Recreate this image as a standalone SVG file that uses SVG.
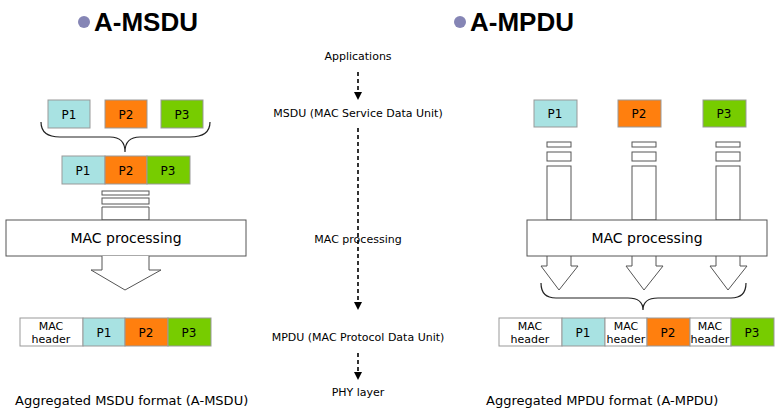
<svg xmlns="http://www.w3.org/2000/svg" width="780" height="412" viewBox="0 0 780 412">
<defs>
<marker id="ah" markerWidth="8" markerHeight="8" refX="4" refY="4" orient="auto" markerUnits="userSpaceOnUse"><path d="M0,0 L8,4 L0,8 z" fill="#000"/></marker>
<style>
text{font-family:"DejaVu Sans","Liberation Sans",sans-serif;fill:#000}
.t{font-size:11px;text-anchor:middle}
.p{font-size:12px;text-anchor:middle}
.h{font-size:11px;text-anchor:middle}
.b{stroke:#999;stroke-width:1}
.c1{fill:#a8e2e2}.c2{fill:#ff7f0e}.c3{fill:#77cc00}.w{fill:#fff}
.o{fill:#fff;stroke:#555;stroke-width:1}
.br{fill:none;stroke:#222;stroke-width:1.2}
.d{stroke:#000;stroke-width:1.6;stroke-dasharray:4,3;fill:none}
.title{font-family:"Liberation Sans",Arial,sans-serif;font-size:26px;font-weight:bold}
.cap{font-size:13px}
</style>
</defs>
<g id="titles">
<circle cx="84" cy="22" r="6" fill="#8585b5"/>
<text x="94" y="31" class="title">A-MSDU</text>
<circle cx="460" cy="22" r="6" fill="#8585b5"/>
<text x="470" y="31" class="title">A-MPDU</text>
</g>
<g id="connectors">
<line x1="358" y1="72" x2="358" y2="96" class="d" marker-end="url(#ah)"/>
<line x1="358" y1="128" x2="358" y2="306" class="d" marker-end="url(#ah)"/>
<line x1="358" y1="353" x2="358" y2="376" class="d" marker-end="url(#ah)"/>
</g>
<g id="layers">
<text x="358" y="60" class="t">Applications</text>
<text x="358" y="117" class="t">MSDU (MAC Service Data Unit)</text>
<text x="358" y="243" class="t">MAC processing</text>
<text x="358" y="341" class="t">MPDU (MAC Protocol Data Unit)</text>
<text x="358" y="396" class="t">PHY layer</text>
</g>
<g id="msdu-left">
<rect x="48" y="100" width="42" height="28" class="b c1"/><text x="69" y="119" class="p">P1</text>
<rect x="105" y="100" width="42" height="28" class="b c2"/><text x="126" y="119" class="p">P2</text>
<rect x="161" y="100" width="42" height="28" class="b c3"/><text x="182" y="119" class="p">P3</text>
<path class="br" d="M41,122 Q41,137 60,137 L110,137 Q125,137 125,152 Q125,137 140,137 L190,137 Q210,137 210,122"/>
<rect x="62" y="156" width="43" height="28" class="b c1"/><text x="83" y="175" class="p">P1</text>
<rect x="105" y="156" width="42" height="28" class="b c2"/><text x="126" y="175" class="p">P2</text>
<rect x="147" y="156" width="43" height="28" class="b c3"/><text x="168" y="175" class="p">P3</text>
<rect x="102" y="191" width="47" height="4" class="o"/>
<rect x="102" y="198" width="47" height="6" class="o"/>
<path class="o" d="M102,207 L149,207 L149,220 L102,220 z"/>
<rect x="6" y="220" width="240" height="36" class="o"/>
<text x="126" y="243" font-size="14" text-anchor="middle">MAC processing</text>
<path class="o" d="M102,256 L102,270 L91,270 L125,290 L161,270 L149,270 L149,256"/>
</g>
<g id="msdu-bottom">
<rect x="20" y="318" width="63" height="28" class="b w"/><text x="51" y="330" class="h">MAC</text><text x="51" y="343" class="h">header</text>
<rect x="83" y="318" width="42" height="28" class="b c1"/><text x="104" y="337" class="p">P1</text>
<rect x="125" y="318" width="43" height="28" class="b c2"/><text x="146" y="337" class="p">P2</text>
<rect x="168" y="318" width="43" height="28" class="b c3"/><text x="189" y="337" class="p">P3</text>
</g>
<g id="mpdu-right">
<rect x="534" y="100" width="43" height="27" class="b c1"/><text x="555" y="118" class="p">P1</text>
<rect x="618" y="100" width="43" height="27" class="b c2"/><text x="639" y="118" class="p">P2</text>
<rect x="703" y="100" width="43" height="27" class="b c3"/><text x="724" y="118" class="p">P3</text>
<g id="arrow1">
<rect x="547" y="142" width="24" height="5" class="o"/><rect x="547" y="152" width="24" height="9" class="o"/>
<rect x="547" y="166" width="24" height="54" class="o"/>
<path class="o" d="M547,256 L547,266 L541,266 L559,290 L578,266 L571,266 L571,256"/>
</g>
<g id="arrow2">
<rect x="632" y="142" width="24" height="5" class="o"/><rect x="632" y="152" width="24" height="9" class="o"/>
<rect x="632" y="166" width="24" height="54" class="o"/>
<path class="o" d="M632,256 L632,266 L626,266 L644,290 L663,266 L656,266 L656,256"/>
</g>
<g id="arrow3">
<rect x="716" y="142" width="24" height="5" class="o"/><rect x="716" y="152" width="24" height="9" class="o"/>
<rect x="716" y="166" width="24" height="54" class="o"/>
<path class="o" d="M716,256 L716,266 L710,266 L728,290 L747,266 L740,266 L740,256"/>
</g>
<rect x="527" y="220" width="240" height="36" class="o"/>
<text x="647" y="243" font-size="14" text-anchor="middle">MAC processing</text>
<path class="br" d="M541,283 Q541,298 556,298 L628,298 Q643,298 643,310 Q643,298 658,298 L731,298 Q746,298 746,283"/>
</g>
<g id="mpdu-bottom">
<rect x="499" y="318" width="63" height="28" class="b w"/><text x="530" y="330" class="h">MAC</text><text x="530" y="343" class="h">header</text>
<rect x="562" y="318" width="43" height="28" class="b c1"/><text x="583" y="337" class="p">P1</text>
<rect x="605" y="318" width="42" height="28" class="b w"/><text x="626" y="330" class="h">MAC</text><text x="626" y="343" class="h">header</text>
<rect x="647" y="318" width="43" height="28" class="b c2"/><text x="668" y="337" class="p">P2</text>
<rect x="690" y="318" width="41" height="28" class="b w"/><text x="710" y="330" class="h">MAC</text><text x="710" y="343" class="h">header</text>
<rect x="731" y="318" width="43" height="28" class="b c3"/><text x="752" y="337" class="p">P3</text>
</g>
<g id="captions">
<text x="15" y="405" class="cap">Aggregated MSDU format (A-MSDU)</text>
<text x="486" y="405" class="cap">Aggregated MPDU format (A-MPDU)</text>
</g>
</svg>
